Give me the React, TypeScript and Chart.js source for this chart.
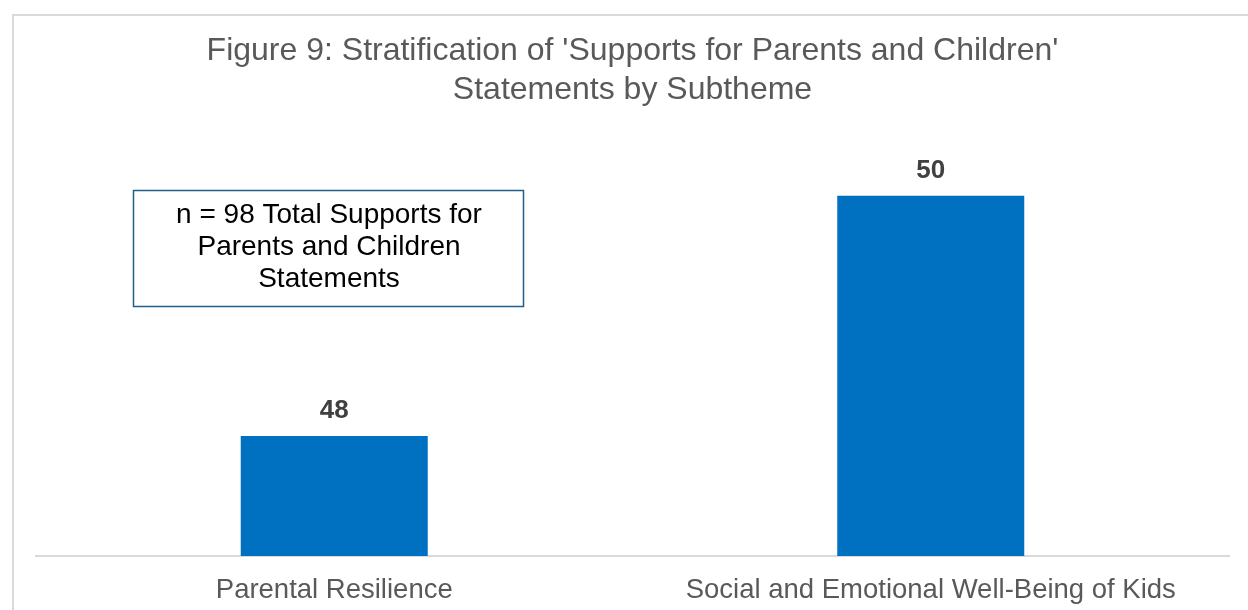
import React, { useEffect, useRef } from "react";
import { Chart, registerables } from "chart.js";

Chart.register(...registerables);

const categories = ["Parental Resilience", "Social and Emotional Well-Being of Kids"];
const statementCounts = [48, 50];
const titleLines = ["Figure 9: Stratification of 'Supports for Parents and Children'", "Statements by Subtheme"];
const noteLines = ["n = 98 Total Supports for", "Parents and Children", "Statements"];

const FONT = "'Liberation Sans', Arial, sans-serif";

const framePlugin = {
  id: "frame",
  beforeDraw(chart: any) {
    const ctx = chart.ctx;
    ctx.save();
    ctx.fillStyle = "#ffffff";
    ctx.fillRect(0, 0, chart.width, chart.height);
    ctx.strokeStyle = "#d9d9d9";
    ctx.lineWidth = 2;
    ctx.strokeRect(13, 15, chart.width + 100, chart.height + 100);
    ctx.restore();
  },
};

const labelsPlugin = {
  id: "valueLabels",
  afterDatasetsDraw(chart: any) {
    const ctx = chart.ctx;
    const meta = chart.getDatasetMeta(0);
    ctx.save();
    ctx.font = `bold 26px ${FONT}`;
    ctx.fillStyle = "#404040";
    ctx.textAlign = "center";
    ctx.textBaseline = "middle";
    meta.data.forEach((bar: any, i: number) => {
      ctx.fillText(String(chart.data.datasets[0].data[i]), bar.x, bar.y - 25);
    });
    ctx.restore();
  },
};

const notePlugin = {
  id: "noteBox",
  afterDraw(chart: any) {
    const ctx = chart.ctx;
    ctx.save();
    ctx.strokeStyle = "#1f5f8b";
    ctx.lineWidth = 1.5;
    ctx.strokeRect(133.5, 190.5, 390, 116);
    ctx.font = `28px ${FONT}`;
    ctx.fillStyle = "#000000";
    ctx.textAlign = "center";
    ctx.textBaseline = "middle";
    noteLines.forEach((line, i) => {
      ctx.fillText(line, 329, 215 + i * 32);
    });
    ctx.restore();
  },
};

export default function App() {
  const ref = useRef<HTMLCanvasElement>(null);
  useEffect(() => {
    document.body.style.margin = "0";
    const chart = new Chart(ref.current as HTMLCanvasElement, {
      type: "bar",
      data: {
        labels: categories,
        datasets: [
          {
            data: statementCounts,
            backgroundColor: "#0070c0",
            categoryPercentage: 1,
            barPercentage: 0.3135,
          },
        ],
      },
      options: {
        animation: false,
        responsive: false,
        layout: { padding: { left: 36, right: 19, top: 0, bottom: 0 } },
        plugins: {
          legend: { display: false },
          tooltip: { enabled: false },
          title: {
            display: true,
            text: titleLines,
            color: "#595959",
            font: { family: FONT, size: 32, weight: "normal", lineHeight: 1.22 },
            padding: { top: 32, bottom: 25.5 },
          },
        },
        scales: {
          x: {
            grid: { display: false, drawTicks: false },
            border: { display: true, color: "#d9d9d9", width: 2 },
            ticks: { color: "#595959", font: { family: FONT, size: 27.5 }, padding: 18, maxRotation: 0, autoSkip: false },
            afterFit: (scale: any) => {
              scale.height = 54;
            },
          },
          y: {
            display: false,
            min: 47,
            max: 50.5,
          },
        },
      },
      plugins: [framePlugin, labelsPlugin, notePlugin],
    });
    return () => chart.destroy();
  }, []);
  return (
    <div style={{ width: 1248, height: 610 }}>
      <canvas ref={ref} width={1248} height={610} />
    </div>
  );
}
